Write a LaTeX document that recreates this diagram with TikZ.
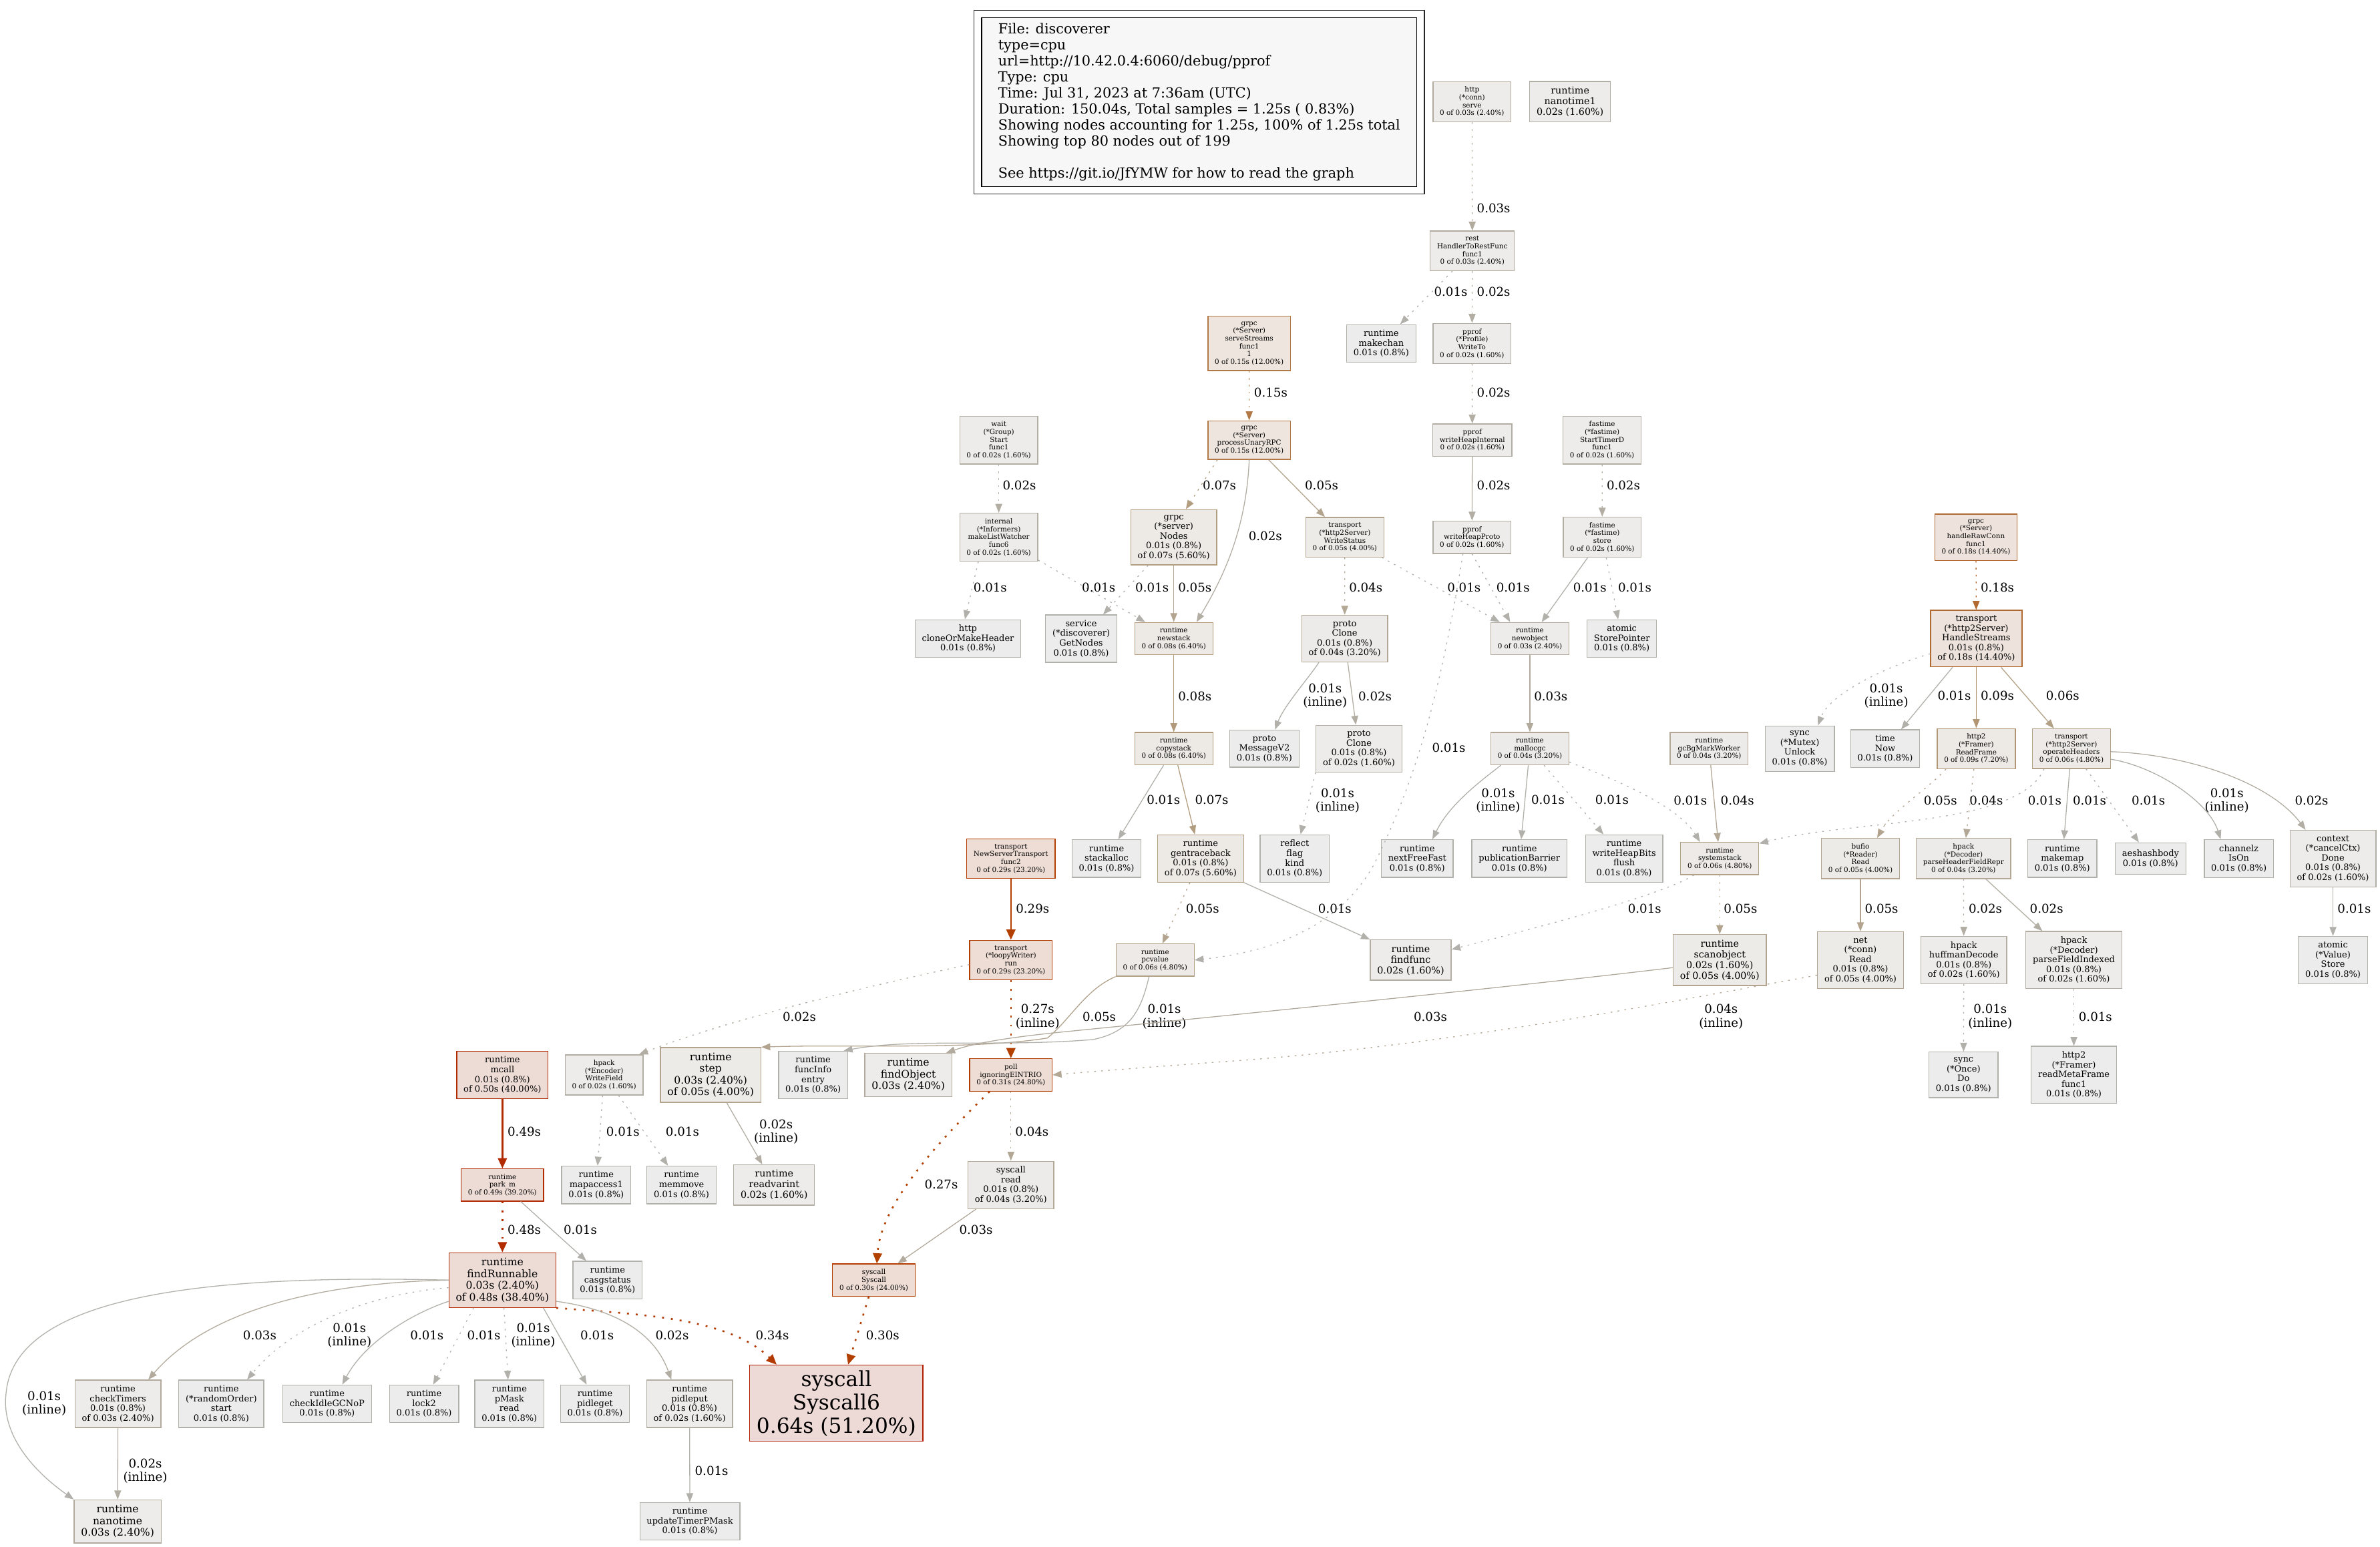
\documentclass[tikz,border=0pt]{standalone}
\usepackage{fontspec}
\setmainfont{DejaVu Serif}
\usetikzlibrary{arrows.meta, positioning, calc, fit}

% heat colours (fg = border/edge, bg = fill)
\definecolor{fg01}{HTML}{B2B0AB}\definecolor{bg01}{HTML}{EDECEC}
\definecolor{fg02}{HTML}{B2AEA4}\definecolor{bg02}{HTML}{EDECEB}
\definecolor{fg03}{HTML}{B2AB9D}\definecolor{bg03}{HTML}{EDECEA}
\definecolor{fg04}{HTML}{B2A895}\definecolor{bg04}{HTML}{EDEBE9}
\definecolor{fg05}{HTML}{B2A48E}\definecolor{bg05}{HTML}{EDEBE8}
\definecolor{fg06}{HTML}{B2A187}\definecolor{bg06}{HTML}{EDEAE7}
\definecolor{fg07}{HTML}{B29D80}\definecolor{bg07}{HTML}{EDEAE6}
\definecolor{fg08}{HTML}{B29979}\definecolor{bg08}{HTML}{EDE9E5}
\definecolor{fg09}{HTML}{B29572}\definecolor{bg09}{HTML}{EDE9E4}
\definecolor{fg15}{HTML}{B27947}\definecolor{bg15}{HTML}{EDE5DE}
\definecolor{fg18}{HTML}{B26A31}\definecolor{bg18}{HTML}{EDE3DC}
\definecolor{fg27}{HTML}{B24100}
\definecolor{fg29}{HTML}{B23F00}\definecolor{bg29}{HTML}{EDDDD5}
\definecolor{fg30}{HTML}{B23E00}\definecolor{bg30}{HTML}{EDDDD5}
\definecolor{fg31}{HTML}{B23D00}\definecolor{bg31}{HTML}{EDDDD5}
\definecolor{fg34}{HTML}{B23900}
\definecolor{fg48}{HTML}{B22C00}\definecolor{bg48}{HTML}{EDDBD5}
\definecolor{fg49}{HTML}{B22B00}\definecolor{bg49}{HTML}{EDDBD5}
\definecolor{fg50}{HTML}{B22A00}\definecolor{bg50}{HTML}{EDDBD5}
\definecolor{fg64}{HTML}{B22000}\definecolor{bg64}{HTML}{EDD9D5}

\begin{document}
\begin{tikzpicture}[
    x=0.05cm, y=-0.05cm,
    fn/.style={draw, rectangle, align=center, line width=0.81pt, inner xsep=6.45pt, inner ysep=4.9pt, minimum width=44pt, minimum height=29.5pt},
    heat/.style={draw=fg#1, fill=bg#1},
    sz8/.style={font=\fontsize{6.51}{7.3}\selectfont},
    sz10/.style={font=\fontsize{8.14}{9.1}\selectfont},
    sz11/.style={font=\fontsize{8.95}{10}\selectfont},
    sz12/.style={font=\fontsize{9.77}{10.95}\selectfont},
    sz24/.style={font=\fontsize{19.54}{21.9}\selectfont},
    legend/.style={draw=black, fill=black!3, line width=0.81pt, align=left, font=\fontsize{13.02}{15.07}\selectfont, minimum width=408pt, minimum height=158.2pt, inner sep=0pt},
    link/.style={line width=0.81pt, -{Triangle[length=8.4pt, width=6.4pt]}},
    heavy/.style={line width=1.63pt, -{Triangle[length=9.6pt, width=8.4pt]}},
    resid/.style={dash pattern=on 1.6pt off 4.9pt},
    hresid/.style={dash pattern=on 1.8pt off 6.5pt},
    ec/.style={draw=fg#1},
    lbl/.style={font=\fontsize{11.4}{12.9}\selectfont, align=center, inner sep=0pt, text=black}
]
\useasboundingbox (0,0) rectangle (1568,1019);

% --- Legend ---
\node[legend, anchor=north west] (legend) at (646.4,11.4) {File: discoverer\\type=cpu\\url=http://10.42.0.4:6060/debug/pprof\\Type: cpu\\Time: Jul 31, 2023 at 7:36am (UTC)\\Duration: 150.04s, Total samples = 1.25s ( 0.83\%)\\Showing nodes accounting for 1.25s, 100\% of 1.25s total\\Showing top 80 nodes out of 199\\[15.1pt]See https://git.io/JfYMW for how to read the graph};
\node[draw=black!85, line width=0.81pt, fit=(legend), inner sep=0.235cm] (legendFrame) {};

% --- Nodes ---
\node[fn, sz8, heat=03] (serve) at (969.8,67) {http\\(*conn)\\serve\\0 of 0.03s (2.40\%)};
\node[fn, sz11, heat=02] (nanotime1) at (1034.4,67) {runtime\\nanotime1\\0.02s (1.60\%)};
\node[fn, sz8, heat=03] (rest) at (970,165.3) {rest\\HandlerToRestFunc\\func1\\0 of 0.03s (2.40\%)};
\node[fn, sz10, heat=01] (makechan) at (910,226.3) {runtime\\makechan\\0.01s (0.8\%)};
\node[fn, sz8, heat=02] (writeTo) at (969.8,226.3) {pprof\\(*Profile)\\WriteTo\\0 of 0.02s (1.60\%)};
\node[fn, sz8, heat=15] (serveStreams) at (823,226.3) {grpc\\(*Server)\\serveStreams\\func1\\1\\0 of 0.15s (12.00\%)};
\node[fn, sz8, heat=02] (waitStart) at (658,290) {wait\\(*Group)\\Start\\func1\\0 of 0.02s (1.60\%)};
\node[fn, sz8, heat=15] (procRPC) at (823,290) {grpc\\(*Server)\\processUnaryRPC\\0 of 0.15s (12.00\%)};
\node[fn, sz8, heat=02] (heapInternal) at (970,290) {pprof\\writeHeapInternal\\0 of 0.02s (1.60\%)};
\node[fn, sz8, heat=02] (startTimer) at (1055.5,290) {fastime\\(*fastime)\\StartTimerD\\func1\\0 of 0.02s (1.60\%)};
\node[fn, sz8, heat=02] (listWatcher) at (658,354) {internal\\(*Informers)\\makeListWatcher\\func6\\0 of 0.02s (1.60\%)};
\node[fn, sz10, heat=07] (nodesRPC) at (773.3,354) {grpc\\(*server)\\Nodes\\0.01s (0.8\%)\\of 0.07s (5.60\%)};
\node[fn, sz8, heat=05] (writeStatus) at (886,354) {transport\\(*http2Server)\\WriteStatus\\0 of 0.05s (4.00\%)};
\node[fn, sz8, heat=02] (heapProto) at (969.8,354) {pprof\\writeHeapProto\\0 of 0.02s (1.60\%)};
\node[fn, sz8, heat=02] (fastStore) at (1055.6,354) {fastime\\(*fastime)\\store\\0 of 0.02s (1.60\%)};
\node[fn, sz8, heat=18] (rawConn) at (1301.8,354) {grpc\\(*Server)\\handleRawConn\\func1\\0 of 0.18s (14.40\%)};
\node[fn, sz10, heat=01] (cloneHeader) at (637.7,420.8) {http\\cloneOrMakeHeader\\0.01s (0.8\%)};
\node[fn, sz10, heat=01] (getNodes) at (712.3,420.8) {service\\(*discoverer)\\GetNodes\\0.01s (0.8\%)};
\node[fn, sz8, heat=08] (newstack) at (773.3,420.8) {runtime\\newstack\\0 of 0.08s (6.40\%)};
\node[fn, sz10, heat=04] (protoClone) at (885.9,420.8) {proto\\Clone\\0.01s (0.8\%)\\of 0.04s (3.20\%)};
\node[fn, sz8, heat=03] (newobject) at (1007.9,420.8) {runtime\\newobject\\0 of 0.03s (2.40\%)};
\node[fn, sz10, heat=01] (storePtr) at (1068.5,420.8) {atomic\\StorePointer\\0.01s (0.8\%)};
\node[fn, sz10, heat=18] (handleStreams) at (1302,420.8) {transport\\(*http2Server)\\HandleStreams\\0.01s (0.8\%)\\of 0.18s (14.40\%)};
\node[fn, sz8, heat=08] (copystack) at (773.3,493.3) {runtime\\copystack\\0 of 0.08s (6.40\%)};
\node[fn, sz10, heat=01] (messageV2) at (833,493.3) {proto\\MessageV2\\0.01s (0.8\%)};
\node[fn, sz10, heat=02] (protoClone2) at (895.3,493.3) {proto\\Clone\\0.01s (0.8\%)\\of 0.02s (1.60\%)};
\node[fn, sz8, heat=04] (mallocgc) at (1007.9,493.3) {runtime\\mallocgc\\0 of 0.04s (3.20\%)};
\node[fn, sz8, heat=04] (gcMark) at (1126,493.3) {runtime\\gcBgMarkWorker\\0 of 0.04s (3.20\%)};
\node[fn, sz10, heat=01] (mutexUnlock) at (1185.7,493.3) {sync\\(*Mutex)\\Unlock\\0.01s (0.8\%)};
\node[fn, sz10, heat=01] (timeNow) at (1242,493.3) {time\\Now\\0.01s (0.8\%)};
\node[fn, sz8, heat=09] (readFrame) at (1302,493.3) {http2\\(*Framer)\\ReadFrame\\0 of 0.09s (7.20\%)};
\node[fn, sz8, heat=06] (opHeaders) at (1364.7,493.3) {transport\\(*http2Server)\\operateHeaders\\0 of 0.06s (4.80\%)};
\node[fn, sz8, heat=29] (newTransport) at (666,565.7) {transport\\NewServerTransport\\func2\\0 of 0.29s (23.20\%)};
\node[fn, sz10, heat=01] (stackalloc) at (729,565.7) {runtime\\stackalloc\\0.01s (0.8\%)};
\node[fn, sz10, heat=07] (gentrace) at (791,565.7) {runtime\\gentraceback\\0.01s (0.8\%)\\of 0.07s (5.60\%)};
\node[fn, sz10, heat=01] (flagKind) at (853,565.7) {reflect\\flag\\kind\\0.01s (0.8\%)};
\node[fn, sz10, heat=01] (nextFree) at (933.7,565.7) {runtime\\nextFreeFast\\0.01s (0.8\%)};
\node[fn, sz10, heat=01] (pubBarrier) at (1001,565.7) {runtime\\publicationBarrier\\0.01s (0.8\%)};
\node[fn, sz10, heat=01] (heapBits) at (1070,565.7) {runtime\\writeHeapBits\\flush\\0.01s (0.8\%)};
\node[fn, sz8, heat=06] (systemstack) at (1133,565.7) {runtime\\systemstack\\0 of 0.06s (4.80\%)};
\node[fn, sz8, heat=05] (bufioRead) at (1225.7,565.7) {bufio\\(*Reader)\\Read\\0 of 0.05s (4.00\%)};
\node[fn, sz8, heat=04] (parseRepr) at (1293.6,565.7) {hpack\\(*Decoder)\\parseHeaderFieldRepr\\0 of 0.04s (3.20\%)};
\node[fn, sz10, heat=01] (makemap) at (1358.7,565.7) {runtime\\makemap\\0.01s (0.8\%)};
\node[fn, sz10, heat=01] (aeshash) at (1416.8,565.7) {aeshashbody\\0.01s (0.8\%)};
\node[fn, sz10, heat=01] (channelzOn) at (1475,565.7) {channelz\\IsOn\\0.01s (0.8\%)};
\node[fn, sz10, heat=02] (ctxDone) at (1537,565.7) {context\\(*cancelCtx)\\Done\\0.01s (0.8\%)\\of 0.02s (1.60\%)};
\node[fn, sz8, heat=29] (loopyRun) at (666,632.6) {transport\\(*loopyWriter)\\run\\0 of 0.29s (23.20\%)};
\node[fn, sz8, heat=06] (pcvalue) at (761,632.6) {runtime\\pcvalue\\0 of 0.06s (4.80\%)};
\node[fn, sz11, heat=02] (findfunc) at (929.4,632.6) {runtime\\findfunc\\0.02s (1.60\%)};
\node[fn, sz11, heat=05] (scanobject) at (1133,632.6) {runtime\\scanobject\\0.02s (1.60\%)\\of 0.05s (4.00\%)};
\node[fn, sz10, heat=05] (netRead) at (1225.7,632.6) {net\\(*conn)\\Read\\0.01s (0.8\%)\\of 0.05s (4.00\%)};
\node[fn, sz10, heat=02] (huffman) at (1293.8,632.6) {hpack\\huffmanDecode\\0.01s (0.8\%)\\of 0.02s (1.60\%)};
\node[fn, sz10, heat=02] (fieldIndexed) at (1366.3,632.6) {hpack\\(*Decoder)\\parseFieldIndexed\\0.01s (0.8\%)\\of 0.02s (1.60\%)};
\node[fn, sz10, heat=01] (valueStore) at (1537,632.6) {atomic\\(*Value)\\Store\\0.01s (0.8\%)};
\node[fn, sz10, heat=50] (mcall) at (331,708.3) {runtime\\mcall\\0.01s (0.8\%)\\of 0.50s (40.00\%)};
\node[fn, sz8, heat=02] (writeField) at (398,708.3) {hpack\\(*Encoder)\\WriteField\\0 of 0.02s (1.60\%)};
\node[fn, sz12, heat=05] (step) at (468.2,708.3) {runtime\\step\\0.03s (2.40\%)\\of 0.05s (4.00\%)};
\node[fn, sz10, heat=01] (funcInfo) at (535.7,708.3) {runtime\\funcInfo\\entry\\0.01s (0.8\%)};
\node[fn, sz12, heat=03] (findObject) at (598.4,708.3) {runtime\\findObject\\0.03s (2.40\%)};
\node[fn, sz8, heat=31] (poll) at (666,708.3) {poll\\ignoringEINTRIO\\0 of 0.31s (24.80\%)};
\node[fn, sz10, heat=01] (onceDo) at (1293.6,708.3) {sync\\(*Once)\\Do\\0.01s (0.8\%)};
\node[fn, sz10, heat=01] (metaFrame) at (1366.3,708.3) {http2\\(*Framer)\\readMetaFrame\\func1\\0.01s (0.8\%)};
\node[fn, sz8, heat=49] (parkM) at (331,780.8) {runtime\\park\_m\\0 of 0.49s (39.20\%)};
\node[fn, sz10, heat=01] (mapaccess) at (392.8,780.8) {runtime\\mapaccess1\\0.01s (0.8\%)};
\node[fn, sz10, heat=01] (memmove) at (449,780.8) {runtime\\memmove\\0.01s (0.8\%)};
\node[fn, sz11, heat=02] (readvarint) at (510,780.8) {runtime\\readvarint\\0.02s (1.60\%)};
\node[fn, sz10, heat=04] (sysRead) at (666,780.8) {syscall\\read\\0.01s (0.8\%)\\of 0.04s (3.20\%)};
\node[fn, sz12, heat=48] (findRunnable) at (331,843.5) {runtime\\findRunnable\\0.03s (2.40\%)\\of 0.48s (38.40\%)};
\node[fn, sz10, heat=01] (casgstatus) at (400.3,843.5) {runtime\\casgstatus\\0.01s (0.8\%)};
\node[fn, sz8, heat=30] (syscallSys) at (575.7,843.5) {syscall\\Syscall\\0 of 0.30s (24.00\%)};
\node[fn, sz10, heat=03] (checkTimers) at (77.7,925) {runtime\\checkTimers\\0.01s (0.8\%)\\of 0.03s (2.40\%)};
\node[fn, sz10, heat=01] (randomOrder) at (145.8,925) {runtime\\(*randomOrder)\\start\\0.01s (0.8\%)};
\node[fn, sz10, heat=01] (idleGC) at (215.5,925) {runtime\\checkIdleGCNoP\\0.01s (0.8\%)};
\node[fn, sz10, heat=01] (lock2) at (279.4,925) {runtime\\lock2\\0.01s (0.8\%)};
\node[fn, sz10, heat=01] (pMask) at (335.6,925) {runtime\\pMask\\read\\0.01s (0.8\%)};
\node[fn, sz10, heat=01] (pidleget) at (392,925) {runtime\\pidleget\\0.01s (0.8\%)};
\node[fn, sz10, heat=02] (pidleput) at (454.3,925) {runtime\\pidleput\\0.01s (0.8\%)\\of 0.02s (1.60\%)};
\node[fn, sz24, heat=64] (syscall6) at (551,924.6) {syscall\\Syscall6\\0.64s (51.20\%)};
\node[fn, sz12, heat=03] (nanotime) at (77.5,1002.5) {runtime\\nanotime\\0.03s (2.40\%)};
\node[fn, sz10, heat=01] (timerPMask) at (454.5,1002.5) {runtime\\updateTimerPMask\\0.01s (0.8\%)};

% --- Edges: top part ---
\draw[link, resid, ec=03] (serve) -- (rest) node[lbl] at (984,137) {0.03s};
\draw[link, resid, ec=01] (rest) -- (makechan) node[lbl] at (955.8,192.3) {0.01s};
\draw[link, resid, ec=02] (rest) -- (writeTo) node[lbl] at (984,192.3) {0.02s};
\draw[link, resid, ec=02] (writeTo) -- (heapInternal) node[lbl] at (984,258.8) {0.02s};
\draw[link, ec=02] (heapInternal) -- (heapProto) node[lbl] at (984,320) {0.02s};
\draw[link, resid, ec=01] (heapProto.south) -- ($(newobject.north)+(-13,0)$) node[lbl] at (996.8,387.2) {0.01s};
\draw[link, resid, ec=01] ($(heapProto.south)+(-6,0)$) .. controls (950,450) and (935,510) .. (905,570) .. controls (880,615) and (830,628) .. (pcvalue.east) node[lbl] at (954.5,492.7) {0.01s};
\draw[link, resid, ec=02] (startTimer) -- (fastStore) node[lbl] at (1069.5,320) {0.02s};
\draw[link, ec=01] (fastStore) -- (newobject) node[lbl] at (1047.4,387.2) {0.01s};
\draw[link, resid, ec=01] (fastStore) -- (storePtr) node[lbl] at (1077,387.2) {0.01s};
\draw[link, resid, ec=15] (serveStreams) -- (procRPC) node[lbl] at (837.2,258.8) {0.15s};
\draw[link, resid, ec=07] ($(procRPC.south)+(-21,0)$) -- ($(nodesRPC.north)+(8,0)$) node[lbl] at (803.4,320) {0.07s};
\draw[link, ec=02] (procRPC.south) .. controls (821,350) and (805,382) .. ($(newstack.north)+(15,0)$) node[lbl] at (833.6,353.4) {0.02s};
\draw[link, ec=05] (procRPC) -- (writeStatus) node[lbl] at (870.7,320) {0.05s};
\draw[link, resid, ec=02] (waitStart) -- (listWatcher) node[lbl] at (671.6,320) {0.02s};
\draw[link, resid, ec=01] ($(listWatcher.south)+(-13.5,0)$) -- ($(cloneHeader.north)+(-2,0)$) node[lbl] at (652.4,387.2) {0.01s};
\draw[link, resid, ec=01] (listWatcher) -- (newstack) node[lbl] at (723.8,387.2) {0.01s};
\draw[link, resid, ec=01] (nodesRPC) -- (getNodes) node[lbl] at (759,387.2) {0.01s};
\draw[link, ec=05] (nodesRPC) -- (newstack) node[lbl] at (787.2,387.2) {0.05s};
\draw[link, resid, ec=04] (writeStatus) -- (protoClone) node[lbl] at (899.8,387.2) {0.04s};
\draw[link, resid, ec=01] (writeStatus) -- (newobject) node[lbl] at (964.5,387.2) {0.01s};

% --- Edges: middle part ---
\draw[link, ec=01] ($(protoClone.south)+(-17,0)$) .. controls (862,447) and (846,465) .. ($(messageV2.north)+(7,0)$) node[lbl] at (873,458.5) {0.01s\\(inline)};
\draw[link, ec=02] (protoClone) -- (protoClone2) node[lbl] at (905.9,458.6) {0.02s};
\draw[link, resid, ec=01] (protoClone2.south west) -- (flagKind) node[lbl] at (881.2,527.5) {0.01s\\(inline)};
\draw[link, ec=08] (newstack) -- (copystack) node[lbl] at (787.2,458.6) {0.08s};
\draw[link, ec=01] (copystack) -- (stackalloc) node[lbl] at (766.5,527.2) {0.01s};
\draw[link, ec=07] (copystack) -- (gentrace) node[lbl] at (798.3,527.2) {0.07s};
\draw[link, resid, ec=05] (gentrace) -- (pcvalue) node[lbl] at (792.3,598.8) {0.05s};
\draw[link, ec=01] (gentrace.south east) -- (findfunc.north west) node[lbl] at (879.4,598.8) {0.01s};
\draw[link, ec=03] (newobject) -- (mallocgc) node[lbl] at (1021.7,458.6) {0.03s};
\draw[link, ec=01] ($(mallocgc.south)+(-19,0)$) .. controls (975,515) and (955,530) .. ($(nextFree.north)+(10,0)$) node[lbl] at (987,527.5) {0.01s\\(inline)};
\draw[link, ec=01] (mallocgc) -- (pubBarrier) node[lbl] at (1019.8,527.2) {0.01s};
\draw[link, resid, ec=01] (mallocgc) -- (heapBits) node[lbl] at (1062,527.2) {0.01s};
\draw[link, resid, ec=01] ($(mallocgc.south east)+(0,-2)$) .. controls (1060,512) and (1105,530) .. ($(systemstack.north)+(-13,0)$) node[lbl] at (1113.6,527.6) {0.01s};
\draw[link, ec=04] (gcMark) -- (systemstack) node[lbl] at (1144.6,527.6) {0.04s};
\draw[link, resid, ec=18] (rawConn) -- (handleStreams) node[lbl] at (1315.9,387.2) {0.18s};
\draw[link, resid, ec=01] ($(handleStreams.west)+(0,10)$) .. controls (1240,440) and (1205,458) .. ($(mutexUnlock.north)+(12,0)$) node[lbl] at (1242.7,458.5) {0.01s\\(inline)};
\draw[link, ec=01] (handleStreams) -- (timeNow) node[lbl] at (1287.5,458.3) {0.01s};
\draw[link, ec=09] (handleStreams) -- (readFrame) node[lbl] at (1315.9,458.3) {0.09s};
\draw[link, ec=06] (handleStreams) -- (opHeaders) node[lbl] at (1358.9,458.3) {0.06s};
\draw[link, resid, ec=05] ($(readFrame.south)+(-20,0)$) .. controls (1270,520) and (1246,535) .. ($(bufioRead.north)+(11,0)$) node[lbl] at (1278.4,527.6) {0.05s};
\draw[link, resid, ec=04] (readFrame) -- (parseRepr) node[lbl] at (1308.6,527.6) {0.04s};
\draw[link, resid, ec=01] ($(opHeaders.south)+(-18,0)$) .. controls (1330,545) and (1220,540) .. ($(systemstack.north east)+(0,1)$) node[lbl] at (1347.1,527.6) {0.01s};
\draw[link, ec=01] (opHeaders) -- (makemap) node[lbl] at (1376.6,527.6) {0.01s};
\draw[link, resid, ec=01] (opHeaders) -- (aeshash) node[lbl] at (1415.4,527.6) {0.01s};
\draw[link, ec=01] ($(opHeaders.east)+(0,7)$) .. controls (1420,505) and (1455,528) .. ($(channelzOn.north)+(-12,0)$) node[lbl] at (1467.1,527.6) {0.01s\\(inline)};
\draw[link, ec=02] ($(opHeaders.east)+(0,2)$) .. controls (1440,497) and (1495,515) .. ($(ctxDone.north)+(-18,0)$) node[lbl] at (1522.9,527.6) {0.02s};
\draw[link, ec=01] (ctxDone) -- (valueStore) node[lbl] at (1551,598.6) {0.01s};
\draw[link, resid, ec=01] ($(systemstack.south)+(-17,0)$) .. controls (1095,590) and (1010,612) .. ($(findfunc.east)+(0,-7)$) node[lbl] at (1083.5,598.8) {0.01s};
\draw[link, resid, ec=05] (systemstack) -- (scanobject) node[lbl] at (1146.7,598.6) {0.05s};
\draw[link, ec=05] (bufioRead) -- (netRead) node[lbl] at (1239.6,598.6) {0.05s};
\draw[link, resid, ec=02] (parseRepr) -- (huffman) node[lbl] at (1308,598.6) {0.02s};
\draw[link, ec=02] (parseRepr) -- (fieldIndexed) node[lbl] at (1348.3,598.6) {0.02s};
\draw[link, resid, ec=01] (huffman) -- (onceDo) node[lbl] at (1311.2,670) {0.01s\\(inline)};
\draw[link, resid, ec=01] (fieldIndexed) -- (metaFrame) node[lbl] at (1380.5,670) {0.01s};

% --- Edges: lower part ---
\draw[heavy, ec=29] (newTransport) -- (loopyRun) node[lbl] at (680.3,598.8) {0.29s};
\draw[link, resid, ec=02] ($(loopyRun.west)+(0,3)$) .. controls (570,650) and (480,672) .. ($(writeField.north east)+(-3,0)$) node[lbl] at (526.6,670.2) {0.02s};
\draw[heavy, hresid, ec=27] (loopyRun) -- (poll) node[lbl] at (683.6,669.9) {0.27s\\(inline)};
\draw[link, ec=05] (pcvalue.south west) .. controls (715,652) and (705,672) .. (690,684) .. controls (640,692) and (560,688) .. (step.north east) node[lbl] at (724.2,669.9) {0.05s};
\draw[link, ec=01] ($(pcvalue.south)+(-4,0)$) .. controls (752,665) and (745,680) .. (720,685) .. controls (660,690) and (600,684) .. ($(funcInfo.north east)+(-3,0)$) node[lbl] at (767.1,669.9) {0.01s\\(inline)};
\draw[link, ec=03] ($(scanobject.west)+(0,5)$) .. controls (1000,650) and (800,670) .. (700,680) .. controls (660,684) and (640,688) .. ($(findObject.north east)+(-4,0)$) node[lbl] at (942.4,669.9) {0.03s};
\draw[link, resid, ec=04] ($(netRead.west)+(0,10)$) .. controls (1100,660) and (950,690) .. (800,700) .. controls (760,703) and (720,706) .. (poll.east) node[lbl] at (1133.9,670) {0.04s\\(inline)};
\draw[link, resid, ec=01] (writeField) -- (mapaccess) node[lbl] at (410.4,745.7) {0.01s};
\draw[link, resid, ec=01] (writeField) -- (memmove) node[lbl] at (449.6,745.7) {0.01s};
\draw[link, ec=02] (step) -- (readvarint) node[lbl] at (511.3,745.8) {0.02s\\(inline)};
\draw[link, resid, ec=04] (poll) -- (sysRead) node[lbl] at (679.9,745.7) {0.04s};
\draw[heavy, hresid, ec=27] ($(poll.south)+(-14,0)$) .. controls (615,755) and (580,795) .. ($(syscallSys.north)+(2,0)$) node[lbl] at (620.1,780.3) {0.27s};
\draw[link, ec=03] (sysRead) -- (syscallSys) node[lbl] at (643,810.2) {0.03s};
\draw[heavy, hresid, ec=30] (syscallSys) -- (syscall6) node[lbl] at (581.5,879.9) {0.30s};
\draw[heavy, ec=49] (mcall) -- (parkM) node[lbl] at (345.4,745.7) {0.49s};
\draw[heavy, hresid, ec=48] (parkM) -- (findRunnable) node[lbl] at (345.4,810.2) {0.48s};
\draw[link, ec=01] (parkM) -- (casgstatus) node[lbl] at (382.3,810.2) {0.01s};
\draw[heavy, hresid, ec=34] (findRunnable.south east) .. controls (420,866) and (480,868) .. ($(syscall6.north west)+(18,0)$) node[lbl] at (508.8,879.9) {0.34s};
\draw[link, ec=03] (findRunnable.west) .. controls (220,845) and (140,860) .. ($(checkTimers.north)+(20,0)$) node[lbl] at (171.1,879.9) {0.03s};
\draw[link, resid, ec=01] ($(findRunnable.west)+(0,5)$) .. controls (250,852) and (195,870) .. ($(randomOrder.north)+(17,0)$) node[lbl] at (230.2,879.9) {0.01s\\(inline)};
\draw[link, ec=01] ($(findRunnable.west)+(0,14)$) .. controls (270,866) and (240,885) .. ($(idleGC.north)+(10,0)$) node[lbl] at (281.3,879.9) {0.01s};
\draw[link, resid, ec=01] ($(findRunnable.south)+(-19,0)$) -- ($(lock2.north)+(6,0)$) node[lbl] at (318.8,879.9) {0.01s};
\draw[link, resid, ec=01] (findRunnable) -- (pMask) node[lbl] at (351.3,879.9) {0.01s\\(inline)};
\draw[link, ec=01] ($(findRunnable.south)+(27,0)$) -- ($(pidleget.north)+(-5.5,0)$) node[lbl] at (393.4,879.9) {0.01s};
\draw[link, ec=02] ($(findRunnable.east)+(0,14)$) .. controls (400,862) and (430,875) .. ($(pidleput.north)+(-12,0)$) node[lbl] at (442.8,879.9) {0.02s};
\draw[link, ec=01] (findRunnable.west) .. controls (150,840) and (10,850) .. (4,918) .. controls (0,950) and (30,975) .. (nanotime.north west) node[lbl] at (29.1,924.8) {0.01s\\(inline)};
\draw[link, ec=02] (checkTimers) -- (nanotime) node[lbl] at (95.7,969.2) {0.02s\\(inline)};
\draw[link, ec=01] (pidleput) -- (timerPMask) node[lbl] at (468.8,969.3) {0.01s};

\end{tikzpicture}
\end{document}
